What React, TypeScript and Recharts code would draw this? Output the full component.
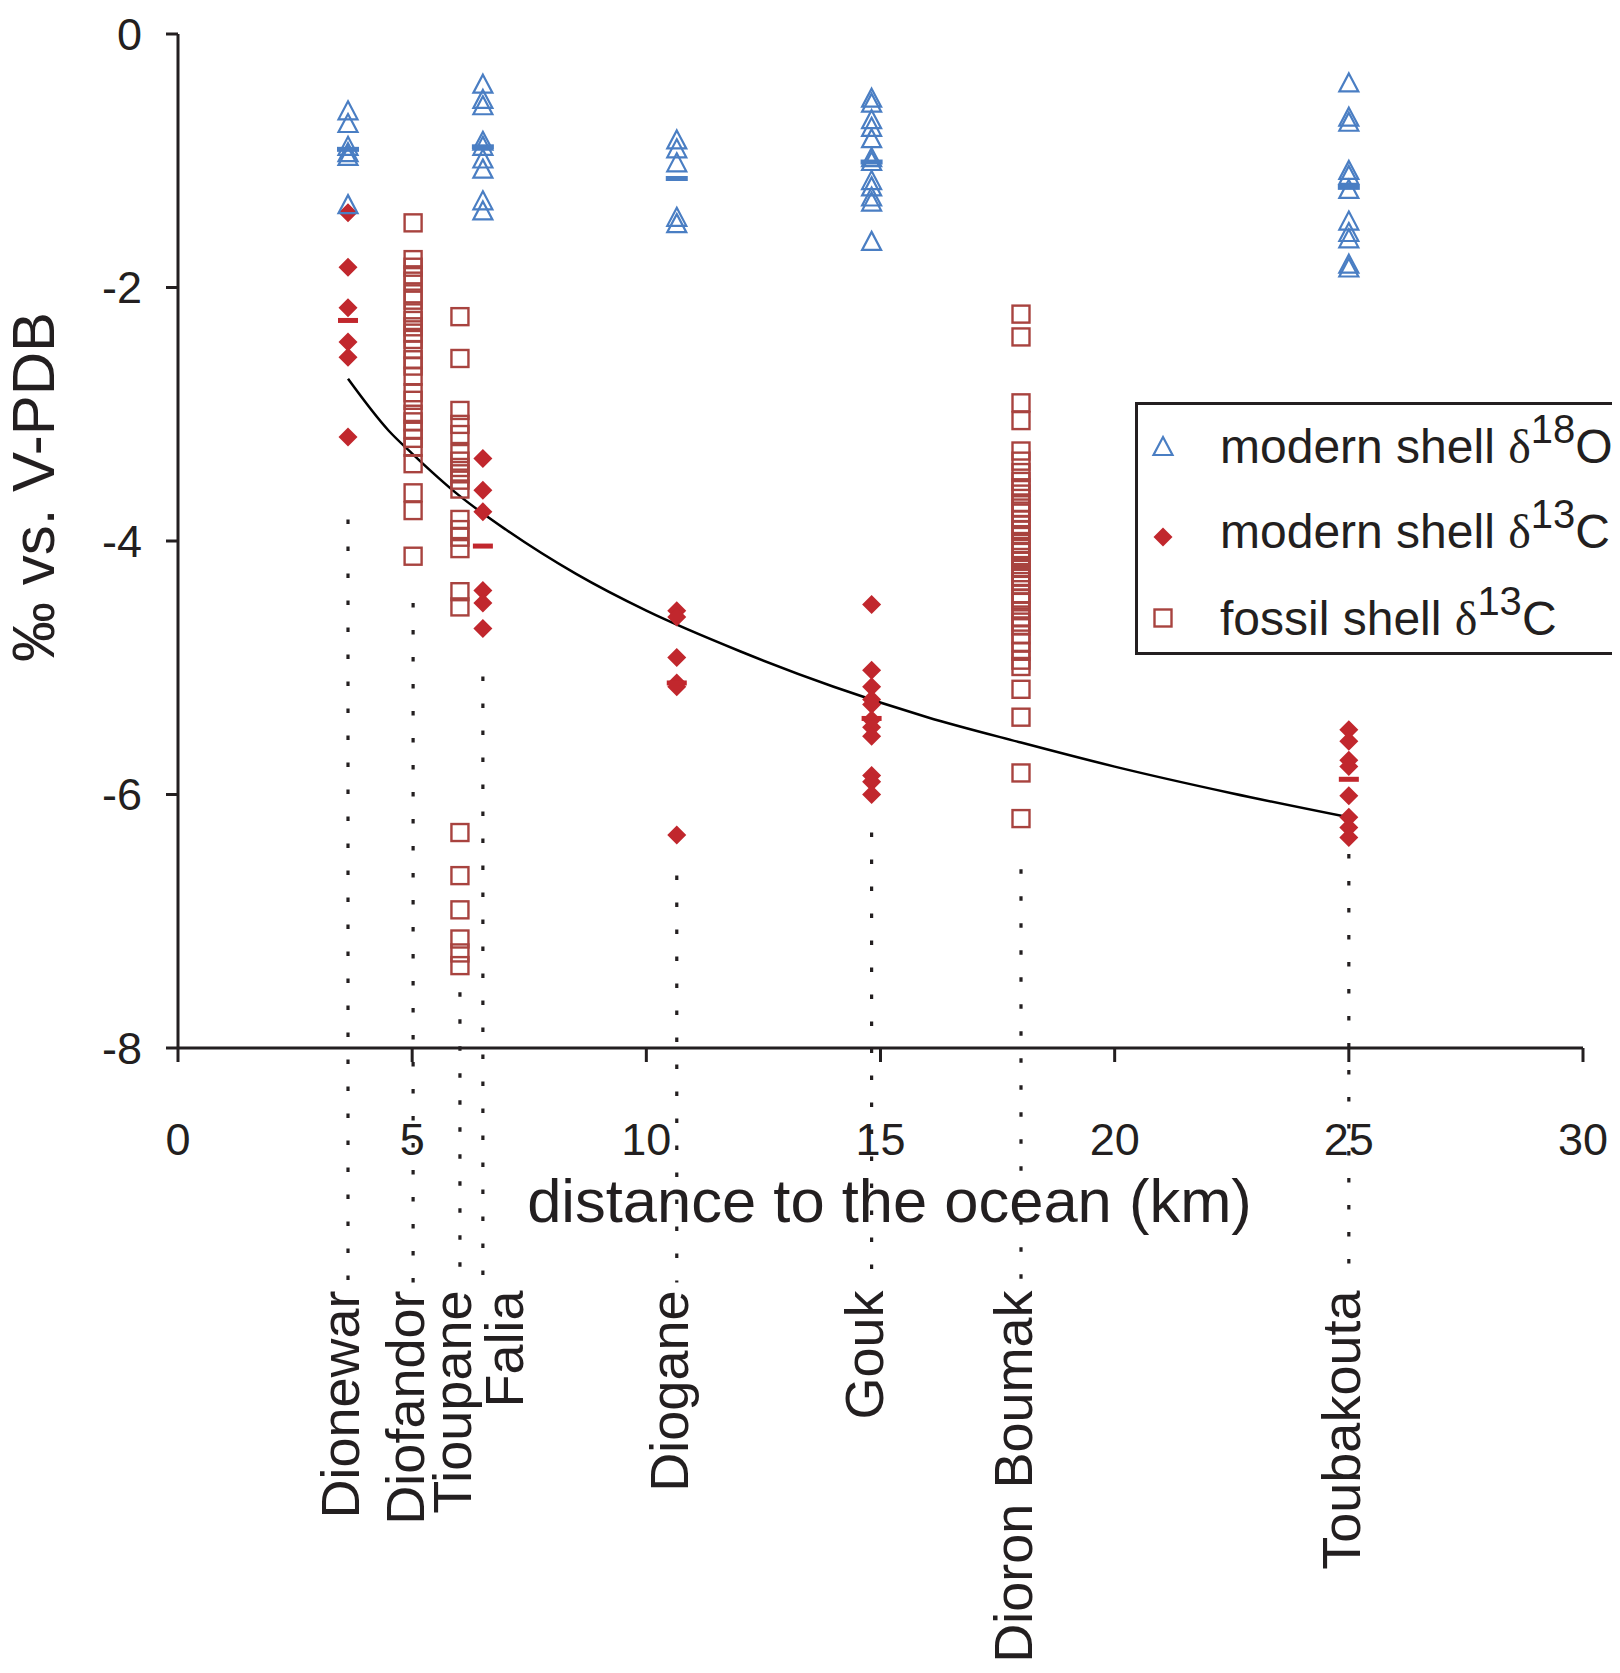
import { ComposedChart, Scatter, Line, XAxis, YAxis, ReferenceLine, Legend } from "recharts";

// sampling sites, ordered by distance to the ocean
const sites = ["Dionewar", "Diofandor", "Tioupane", "Falia", "Diogane", "Gouk", "Dioron Boumak", "Toubakouta"];
const siteKm = [3.63, 5.02, 6.02, 6.51, 10.65, 14.81, 18.0, 25.0];
// where the dotted guide of each site begins and ends (value axis)
const guideTop = [-3.83, -4.49, -7.56, -5.07, -6.64, -6.3, -6.59, -6.47];
const guideBottom = -9.85;

// modern shell d18O, one list per site
const modernO18 = [
  [-0.61, -0.71, -0.89, -0.94, -0.97, -1.35],
  [],
  [],
  [-0.4, -0.52, -0.57, -0.85, -0.89, -0.99, -1.07, -1.32, -1.4],
  [-0.84, -0.91, -1.02, -1.45, -1.5],
  [-0.51, -0.55, -0.68, -0.74, -0.83, -0.98, -1.01, -1.16, -1.21, -1.29, -1.33, -1.64],
  [],
  [-0.39, -0.66, -0.7, -1.08, -1.12, -1.23, -1.48, -1.57, -1.62, -1.82, -1.85],
];

// modern shell d13C
const modernC13 = [
  [-1.41, -1.84, -2.16, -2.43, -2.55, -3.18],
  [],
  [],
  [-3.35, -3.6, -3.77, -4.39, -4.49, -4.69],
  [-4.55, -4.6, -4.92, -5.12, -5.15, -6.32],
  [-4.5, -5.02, -5.15, -5.25, -5.29, -5.41, -5.47, -5.54, -5.85, -5.9, -6.0],
  [],
  [-5.49, -5.58, -5.73, -5.78, -6.01, -6.18, -6.26, -6.34],
];

// fossil shell d13C
const fossilC13 = [
  [],
  [-1.49, -1.78, -1.84, -1.9, -1.95, -2.05, -2.1, -2.2, -2.26, -2.31, -2.36, -2.41, -2.49, -2.57, -2.62, -2.7, -2.83, -2.89, -3.0, -3.06, -3.12, -3.19, -3.26, -3.39, -3.62, -3.76, -4.12],
  [-2.23, -2.56, -2.97, -3.08, -3.16, -3.31, -3.37, -3.42, -3.47, -3.52, -3.59, -3.83, -3.91, -3.97, -4.06, -4.4, -4.52, -6.3, -6.64, -6.91, -7.14, -7.25, -7.35],
  [],
  [],
  [],
  [-2.21, -2.39, -2.91, -3.05, -3.29, -3.37, -3.46, -3.53, -3.58, -3.63, -3.7, -3.74, -3.78, -3.83, -3.87, -3.91, -3.95, -4.02, -4.06, -4.09, -4.13, -4.16, -4.21, -4.25, -4.28, -4.32, -4.35, -4.42, -4.45, -4.48, -4.55, -4.6, -4.64, -4.67, -4.74, -4.8, -4.87, -4.94, -4.99, -5.17, -5.39, -5.83, -6.19],
  [],
];

// site means (short dashes)
const o18Mean = [-0.91, null, null, -0.89, -1.14, -1.01, null, -1.21];
const c13Mean = [-2.26, null, null, -4.04, -5.12, -5.4, null, -5.88];

// fitted trend of modern d13C
const trendKm = [3.63, 4.5, 5, 6, 7, 8.5, 10, 12, 14, 16, 18, 20, 22.5, 25];
const trendValue = [-2.72, -3.13, -3.31, -3.64, -3.91, -4.26, -4.55, -4.87, -5.15, -5.39, -5.59, -5.78, -5.99, -6.18];

const xTicks = [0, 5, 10, 15, 20, 25, 30];
const yTicks = [0, -2, -4, -6, -8];

const INK = "#231f20";
const BLUE = "#4a7ec3";
const RED = "#c1272d";
const BROWN = "#a8433f";

const toPoints = (groups: number[][]) =>
  groups.flatMap((vals, i) => vals.map((y) => ({ x: siteKm[i], y })));
const meanPoints = (vals: (number | null)[]) =>
  vals.flatMap((y, i) => (y == null ? [] : [{ x: siteKm[i], y }]));

const o18Pts = toPoints(modernO18);
const c13Pts = toPoints(modernC13);
const fossilPts = toPoints(fossilC13);
const o18MeanPts = meanPoints(o18Mean);
const c13MeanPts = meanPoints(c13Mean);
const trend = trendKm.map((x, i) => ({ x, y: trendValue[i] }));

const Triangle = (p: any) => (
  <path
    d={`M${p.cx},${p.cy - 10} L${p.cx + 9.5},${p.cy + 8} L${p.cx - 9.5},${p.cy + 8} Z`}
    fill="none"
    stroke={BLUE}
    strokeWidth={2.2}
  />
);
const Diamond = (p: any) => (
  <path
    d={`M${p.cx},${p.cy - 9.5} L${p.cx + 9.5},${p.cy} L${p.cx},${p.cy + 9.5} L${p.cx - 9.5},${p.cy} Z`}
    fill={RED}
  />
);
const Square = (p: any) => (
  <rect x={p.cx - 8.5} y={p.cy - 8.5} width={17} height={17} fill="none" stroke={BROWN} strokeWidth={2.4} />
);
const BlueDash = (p: any) => <rect x={p.cx - 11} y={p.cy - 2.5} width={22} height={5} fill={BLUE} />;
const RedDash = (p: any) => <rect x={p.cx - 10} y={p.cy - 2.5} width={20} height={5} fill={RED} />;

function SiteLabel({ viewBox, name }: any) {
  const x = viewBox.x + (name === "Falia" ? 40 : 11);
  const y = viewBox.y + viewBox.height + 8;
  return (
    <text x={x} y={y} transform={`rotate(-90 ${x} ${y})`} textAnchor="end" fontSize={54} fill={INK}>
      {name}
    </text>
  );
}

function XTitle({ viewBox }: any) {
  return (
    <text x={viewBox.x + viewBox.width / 2 + 9} y={viewBox.y + 174} textAnchor="middle" fontSize={61.5} fill={INK}>
      distance to the ocean (km)
    </text>
  );
}

function YTitle({ viewBox }: any) {
  const x = 46;
  const y = viewBox.y + viewBox.height / 2 - 54;
  return (
    <text x={x} y={y} transform={`rotate(-90 ${x} ${y})`} textAnchor="middle" fontSize={60} fill={INK}>
      ‰ vs. V-PDB
    </text>
  );
}

function LegendEntry({ y, label, sup, tail }: { y: number; label: string; sup: string; tail: string }) {
  return (
    <text x={85} y={y} fontSize={48} fill={INK}>
      {label}
      <tspan fontFamily="'Liberation Serif', serif">δ</tspan>
      <tspan fontSize={40} dy={-20}>{sup}</tspan>
      <tspan dy={20}>{tail}</tspan>
    </text>
  );
}

// the frame runs off the right edge of the page, so it has no right side
function LegendBox() {
  return (
    <svg width={500} height={253} style={{ display: "block" }}>
      <rect x={0} y={0} width={500} height={253} fill="#fff" />
      <path d="M500,1.5 H1.5 V251.5 H500" fill="none" stroke={INK} strokeWidth={3} />
      <Triangle cx={28} cy={45} />
      <Diamond cx={28} cy={135} />
      <Square cx={28} cy={216} />
      <LegendEntry y={61} label="modern shell " sup="18" tail="O" />
      <LegendEntry y={146} label="modern shell " sup="13" tail="C" />
      <LegendEntry y={233} label="fossil shell " sup="13" tail="C" />
    </svg>
  );
}

export default function App() {
  return (
    <div style={{ width: 1612, height: 1657, overflow: "hidden", fontFamily: "'Liberation Sans', Arial, sans-serif" }}>
      <ComposedChart width={1612} height={1657} margin={{ top: 26, right: 37, left: 0, bottom: 437 }}>
        <XAxis
          type="number"
          dataKey="x"
          domain={[0, 30]}
          ticks={xTicks}
          height={180}
          tickSize={14}
          tickMargin={61}
          axisLine={{ stroke: INK, strokeWidth: 3 }}
          tickLine={{ stroke: INK, strokeWidth: 3 }}
          tick={{ fill: INK, fontSize: 45 }}
          label={(p: any) => <XTitle {...p} />}
        />
        <YAxis
          type="number"
          dataKey="y"
          domain={[-8, 0]}
          ticks={yTicks}
          width={170}
          tickSize={12}
          tickMargin={24}
          axisLine={{ stroke: INK, strokeWidth: 3 }}
          tickLine={{ stroke: INK, strokeWidth: 3 }}
          tick={{ fill: INK, fontSize: 45 }}
          label={(p: any) => <YTitle {...p} />}
        />
        {sites.map((s, i) => (
          <ReferenceLine
            key={s}
            segment={[
              { x: siteKm[i], y: guideTop[i] },
              { x: siteKm[i], y: guideBottom },
            ]}
            ifOverflow="visible"
            stroke={INK}
            strokeWidth={3.2}
            strokeDasharray="4.5 22.5"
            label={(p: any) => <SiteLabel {...p} name={s} />}
          />
        ))}
        <Scatter data={fossilPts} shape={Square} isAnimationActive={false} />
        <Scatter data={c13Pts} shape={Diamond} isAnimationActive={false} />
        <Scatter data={o18Pts} shape={Triangle} isAnimationActive={false} />
        <Scatter data={o18MeanPts} shape={BlueDash} isAnimationActive={false} />
        <Scatter data={c13MeanPts} shape={RedDash} isAnimationActive={false} />
        <Line data={trend} dataKey="y" type="monotone" stroke="#000" strokeWidth={2.5} dot={false} isAnimationActive={false} />
        <Legend
          layout="vertical"
          align="center"
          verticalAlign="middle"
          content={() => <LegendBox />}
          wrapperStyle={{ left: 1127, top: 394, width: 500, height: 253 }}
        />
      </ComposedChart>
    </div>
  );
}
